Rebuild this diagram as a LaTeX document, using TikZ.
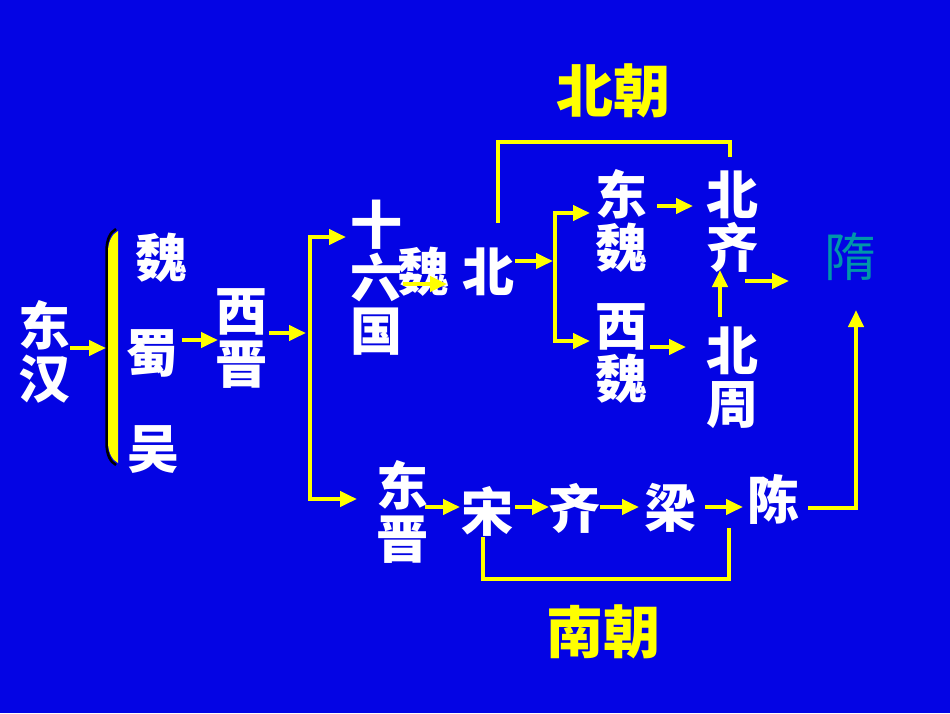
\documentclass[tikz,border=0pt]{standalone}
\usepackage{fontspec}
\usetikzlibrary{arrows.meta}
\newfontfamily\cjk{Noto Sans CJK SC}
\definecolor{bg}{RGB}{4,4,228}
\definecolor{yel}{RGB}{255,255,0}
\definecolor{teal2}{RGB}{0,150,170}
\tikzset{
  tip/.tip={Triangle[length=17pt,width=15pt]},
  ln/.style={draw=yel, line width=4pt},
  arr/.style={ln, -tip},
  han/.style={text=white, font=\cjk\bfseries\fontsize{52}{53}\selectfont, inner sep=0pt, align=center},
  title/.style={text=yel, font=\cjk\bfseries\fontsize{57}{57}\selectfont, inner sep=0pt},
}
\begin{document}
\begin{tikzpicture}[x=1pt,y=-1pt]
\fill[bg] (0,0) rectangle (950,713);
\useasboundingbox (0,0) rectangle (950,713);
% nodes
\node[han] (dh) at (44,352) {东\\汉};
\node[han] (wei1) at (161,258) {魏};
\node[han] (shu) at (152,353) {蜀};
\node[han] (wu) at (153,450) {吴};
\node[han] (xj) at (241,339) {西\\晋};
\node[han] (sl) at (376,278) {十\\六\\国};
\node[han] (wei2) at (423,272) {魏};
\node[han] (bei) at (488,272) {北};
\node[han] (dw) at (621,221) {东\\魏};
\node[han] (xw) at (621,354) {西\\魏};
\node[han] (bq) at (732,222) {北\\齐};
\node[han] (bz) at (732,378) {北\\周};
\node[han, text=teal2, font=\cjk\fontsize{52}{53}\selectfont] (sui) at (850,257) {隋};
\node[han] (dj) at (402,512) {东\\晋};
\node[han] (song) at (487,511) {宋};
\node[han] (qi) at (574,508) {齐};
\node[han] (liang) at (670,508) {梁};
\node[han] (chen) at (773,499) {陈};
\node[title] (beichao) at (613,91) {北朝};
\node[title] (nanchao) at (603,632) {南朝};
% bracket
\draw[black, line width=2.5pt] (116,229) .. controls (110,232) and (106.5,240) .. (106.5,251) -- (106.5,443) .. controls (106.5,454) and (110,462) .. (116,465);
\fill[yel] (118,231) .. controls (112,234) and (108,242) .. (108,252) -- (108,442) .. controls (108,452) and (112,460) .. (118,463) -- cycle;
% arrows
\coordinate (bk) at (106,348);
\draw[arr] (70,348) -- (bk);
\draw[arr] (182,340) -- (218,340);
\draw[arr] (269,333) -- (306,333);
\draw[ln, tip-tip] (346,237) -- (310,237) -- (310,499) -- (357,499);
\draw[arr] (403,284) -- (447,284);
\draw[arr] (515,261) -- (553,261);
\draw[ln, tip-tip] (590,213) -- (555,213) -- (555,341) -- (590,341);
\draw[ln] (498,223) -- (498,142) -- (730,142) -- (730,157);
\draw[arr] (657,206) -- (693,206);
\draw[arr] (650,347) -- (686,347);
\draw[arr] (720,317) -- (720,270);
\draw[arr] (745,281) -- (789,281);
\draw[arr] (425,507) -- (460,507);
\draw[arr] (515,507) -- (549,507);
\draw[arr] (600,507) -- (639,507);
\draw[arr] (705,507) -- (743,507);
\draw[arr] (808,508) -- (856,508) -- (856,310);
\draw[ln] (483,537) -- (483,579) -- (729,579) -- (729,528);
\end{tikzpicture}
\end{document}
